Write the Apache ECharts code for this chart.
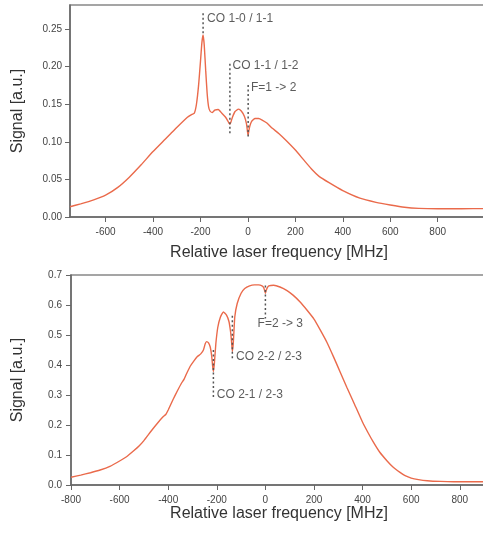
<!DOCTYPE html>
<html>
<head>
<meta charset="utf-8">
<script src="https://cdn.jsdelivr.net/npm/echarts@6/dist/echarts.min.js"></script>
<style>
html,body{margin:0;padding:0;background:#fff;}
#chart{width:483px;height:533px;}
</style>
</head>
<body>
<div id="chart"></div>
<script>
// ---- Top panel data ----
const freqTop = [-750,-705,-650,-600,-550,-500,-450,-400,-350,-325,-300,-255,-236,-226,-217,-208,-200,-194,-189,-184,-178,-172,-166,-160,-150,-140,-125,-110,-95,-85,-80,-76,-72,-66,-55,-40,-28,-15,-6,-2,1,4,8,15,30,45,60,80,103,130,160,200,235,272,300,342,400,472,540,600,660,720,800,900,1000];
const sigTop  = [0.0137,0.0175,0.0228,0.029,0.039,0.053,0.0695,0.087,0.103,0.111,0.119,0.1326,0.1365,0.138,0.150,0.175,0.207,0.232,0.242,0.228,0.195,0.165,0.147,0.141,0.139,0.142,0.143,0.138,0.133,0.128,0.125,0.1235,0.126,0.132,0.140,0.1435,0.141,0.134,0.124,0.114,0.109,0.115,0.121,0.127,0.131,0.131,0.129,0.125,0.118,0.111,0.102,0.089,0.076,0.0625,0.054,0.0456,0.035,0.025,0.0195,0.016,0.013,0.0115,0.011,0.011,0.0112];
const xTicksTop = [-600,-400,-200,0,200,400,600,800];
const yTicksTop = [0,0.05,0.10,0.15,0.20,0.25];
const annoTopNames = ['CO 1-0 / 1-1','CO 1-1 / 1-2','F=1 -> 2'];
const annoTopFreq = [-189,-76,1];
const annoTopUpper = [0.271,0.204,0.1755];
const annoTopLower = [0.242,0.111,0.107];
const annoTopLabelFreq = [-172,-65,13];
const annoTopLabelSig = [0.264,0.201,0.172];

// ---- Bottom panel data ----
const freqBottom = [-800,-760,-720,-680,-640,-600,-570,-542,-520,-500,-470,-440,-420,-410,-400,-380,-362,-345,-335,-325,-310,-294,-280,-266,-255,-248,-242,-234,-227,-221,-217,-214,-210,-204,-196,-185,-173,-160,-150,-144,-140,-136,-132,-126,-116,-100,-85,-65,-45,-28,-14,-7,-3,0,3,8,14,34,60,89,115,144,170,200,225,253,280,308,335,363,400,422,445,470,500,525,554,575,600,630,666,720,775,850,900];
const sigBottom  = [0.026,0.033,0.041,0.050,0.062,0.080,0.095,0.114,0.130,0.148,0.180,0.210,0.228,0.235,0.250,0.285,0.314,0.340,0.352,0.370,0.395,0.414,0.428,0.437,0.450,0.470,0.478,0.474,0.460,0.430,0.395,0.378,0.405,0.470,0.525,0.560,0.577,0.566,0.545,0.515,0.485,0.445,0.475,0.560,0.605,0.639,0.655,0.664,0.667,0.667,0.664,0.658,0.648,0.639,0.648,0.658,0.664,0.666,0.660,0.648,0.632,0.609,0.584,0.553,0.518,0.476,0.428,0.376,0.326,0.276,0.209,0.175,0.142,0.110,0.081,0.060,0.042,0.031,0.023,0.018,0.0144,0.012,0.011,0.011,0.011];
const xTicksBottom = [-800,-600,-400,-200,0,200,400,600,800];
const yTicksBottom = [0,0.1,0.2,0.3,0.4,0.5,0.6,0.7];
const annoBottomNames = ['F=2 -> 3','CO 2-2 / 2-3','CO 2-1 / 2-3'];
const annoBottomFreq = [0,-136,-214];
const annoBottomUpper = [0.665,0.564,0.45];
const annoBottomLower = [0.555,0.414,0.29];
const annoBottomLabelFreq = [-32,-121,-200];
const annoBottomLabelSig = [0.537,0.428,0.301];

const FONT = 'Liberation Sans, Arial, sans-serif';
const LINE_COLOR = '#ea6a4b';
const AXIS_COLOR = '#666';

function zip(a, b) { return a.map((v, i) => [v, b[i]]); }

function xAxis(gridIndex, min, max, ticks, gap) {
  return {
    type: 'value', gridIndex, min, max,
    name: 'Relative laser frequency [MHz]', nameLocation: 'middle', nameGap: gap,
    nameTextStyle: { fontFamily: FONT, fontSize: 16, color: '#333' },
    axisLine: { show: true, onZero: false, lineStyle: { color: AXIS_COLOR, width: 1.5 } },
    axisTick: { show: true, inside: false, length: 5, customValues: ticks, lineStyle: { color: AXIS_COLOR, width: 1 } },
    axisLabel: { show: true, customValues: ticks, margin: 10, fontFamily: FONT, fontSize: 10, color: '#444' },
    splitLine: { show: false }
  };
}
function yAxis(gridIndex, min, max, ticks, digits, gap, margin) {
  return {
    type: 'value', gridIndex, min, max,
    name: 'Signal [a.u.]', nameLocation: 'middle', nameGap: gap, nameRotate: 90,
    nameTextStyle: { fontFamily: FONT, fontSize: 16, color: '#333' },
    axisLine: { show: true, onZero: false, lineStyle: { color: AXIS_COLOR, width: 1.5 } },
    axisTick: { show: true, inside: false, length: 5, customValues: ticks, lineStyle: { color: AXIS_COLOR, width: 1 } },
    axisLabel: { show: true, customValues: ticks, margin: margin, fontFamily: FONT, fontSize: 10, color: '#444',
      formatter: v => v.toFixed(digits) },
    splitLine: { show: false }
  };
}

function annoSeries(idx, names, freq, upper, lower, lf, ls) {
  const out = [];
  names.forEach((n, i) => {
    out.push({
      type: 'line', xAxisIndex: idx, yAxisIndex: idx, symbol: 'none', silent: true, z: 5,
      data: [[freq[i], upper[i]], [freq[i], lower[i]]],
      lineStyle: { color: '#555', width: 1.5, type: [2, 2.5] }
    });
  });
  out.push({
    type: 'scatter', xAxisIndex: idx, yAxisIndex: idx, symbolSize: 0, silent: true, z: 6,
    data: names.map((n, i) => ({ value: [lf[i], ls[i]], name: n })),
    label: { show: true, position: 'right', distance: 0, formatter: p => p.name,
      fontFamily: FONT, fontSize: 12, color: '#333' }
  });
  return out;
}

const chart = echarts.init(document.getElementById('chart'), null, { renderer: 'canvas' });
chart.setOption({
  animation: false,
  backgroundColor: '#fff',
  grid: [
    { left: 70, top: 5, width: 418, height: 212, show: true, borderColor: '#888', borderWidth: 1.5, containLabel: false, outerBoundsMode: 'none' },
    { left: 71, top: 275, width: 416, height: 210, show: true, borderColor: '#888', borderWidth: 1.5, containLabel: false, outerBoundsMode: 'none' }
  ],
  xAxis: [
    xAxis(0, -750, 1012, xTicksTop, 28),
    xAxis(1, -800, 912, xTicksBottom, 20)
  ],
  yAxis: [
    yAxis(0, 0, 0.282, yTicksTop, 2, 44, 8),
    yAxis(1, 0, 0.7, yTicksBottom, 1, 45, 9)
  ],
  series: [
    { type: 'line', xAxisIndex: 0, yAxisIndex: 0, data: zip(freqTop, sigTop), symbol: 'none', smooth: 0.15,
      lineStyle: { color: LINE_COLOR, width: 1.4 }, z: 3 },
    { type: 'line', xAxisIndex: 1, yAxisIndex: 1, data: zip(freqBottom, sigBottom), symbol: 'none', smooth: 0.15,
      lineStyle: { color: LINE_COLOR, width: 1.4 }, z: 3 },
    ...annoSeries(0, annoTopNames, annoTopFreq, annoTopUpper, annoTopLower, annoTopLabelFreq, annoTopLabelSig),
    ...annoSeries(1, annoBottomNames, annoBottomFreq, annoBottomUpper, annoBottomLower, annoBottomLabelFreq, annoBottomLabelSig)
  ]
});
</script>
</body>
</html>
